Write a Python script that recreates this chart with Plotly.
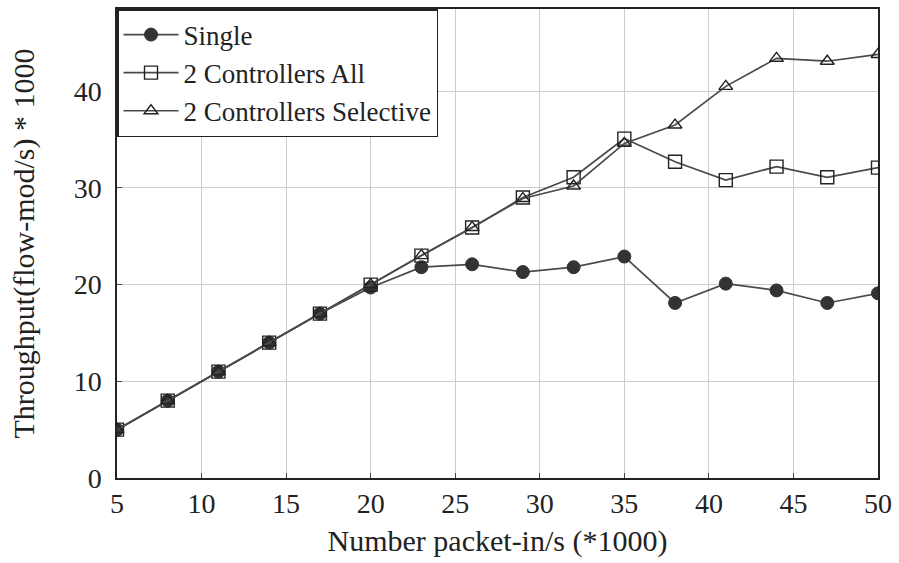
import plotly.graph_objects as go

x_vals = [5, 8, 11, 14, 17, 20, 23, 26, 29, 32, 35, 38, 41, 44, 47, 50]
single = [5, 8, 11, 14, 17, 19.7, 21.8, 22.1, 21.3, 21.8, 22.9, 18.1, 20.1, 19.4, 18.1, 19.1]
ctrl_all = [5, 8, 11, 14, 17, 20, 23, 25.9, 29.0, 31.1, 35.1, 32.7, 30.8, 32.2, 31.1, 32.1]
ctrl_sel = [5, 8, 11, 14, 17, 20, 23, 25.9, 28.9, 30.2, 34.6, 36.5, 40.5, 43.4, 43.1, 43.8]

FONT = "Liberation Serif"
line_col = "#4a4a4a"

fig = go.Figure()
fig.add_trace(go.Scatter(x=x_vals, y=single, name="Single", mode="lines+markers",
                         line=dict(color=line_col, width=1.7),
                         marker=dict(symbol="circle", size=13, color="#333333",
                                     line=dict(color="#333333", width=1))))
fig.add_trace(go.Scatter(x=x_vals, y=ctrl_all, name="2 Controllers All", mode="lines+markers",
                         line=dict(color=line_col, width=1.7),
                         marker=dict(symbol="square-open", size=13, color="#222222",
                                     line=dict(width=1.4))))
fig.add_trace(go.Scatter(x=x_vals, y=ctrl_sel, name="2 Controllers Selective", mode="lines+markers",
                         line=dict(color=line_col, width=1.7),
                         marker=dict(symbol="triangle-up-open", size=12, color="#222222",
                                     line=dict(width=1.4))))

fig.update_layout(
    width=899, height=563,
    margin=dict(l=117, r=20, t=7, b=85),
    paper_bgcolor="white", plot_bgcolor="white",
    font=dict(family=FONT, size=28, color="#222222"),
    showlegend=True,
    legend=dict(x=0, y=1, xanchor="left", yanchor="top",
                bgcolor="white", bordercolor="#222222", borderwidth=1.5,
                font=dict(family=FONT, size=27, color="#222222"), itemwidth=55,
                tracegroupgap=0),
    xaxis=dict(range=[5, 50], tickvals=list(range(5, 51, 5)),
               tickfont=dict(size=28),
               title=dict(text="Number packet-in/s (*1000)", font=dict(size=30), standoff=12),
               showgrid=True, gridcolor="#cccccc", gridwidth=1,
               showline=True, linecolor="#222222", linewidth=1.5, mirror=True,
               ticks="inside", ticklen=5, tickcolor="#444444", zeroline=False),
    yaxis=dict(range=[0, 48.5], tickvals=[0, 10, 20, 30, 40],
               tickfont=dict(size=28), ticklabelstandoff=8,
               title=dict(text="Throughput(flow-mod/s) * 1000", font=dict(size=30), standoff=30),
               showgrid=True, gridcolor="#cccccc", gridwidth=1,
               showline=True, linecolor="#222222", linewidth=1.5, mirror=True,
               ticks="inside", ticklen=5, tickcolor="#444444", zeroline=False),
)

fig.write_html("out.html")
